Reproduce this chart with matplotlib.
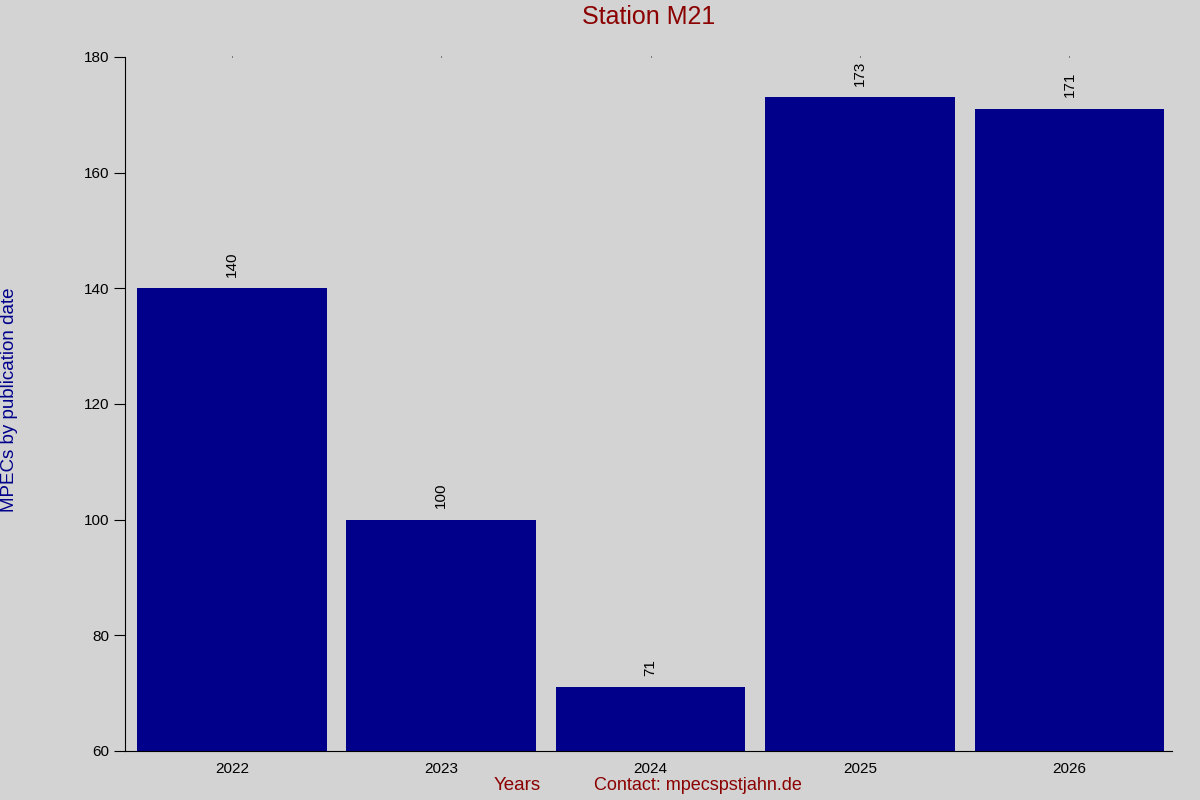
import matplotlib.pyplot as plt
import numpy as np

plt.rcParams['font.family'] = ['Liberation Sans', 'DejaVu Sans']

years = ['2022', '2023', '2024', '2025', '2026']
counts = [140, 100, 71, 173, 171]

fig = plt.figure(figsize=(12, 8), dpi=100, facecolor='#d3d3d3')
ax = fig.add_axes([125 / 1200, 49 / 800, 1047 / 1200, 694 / 800])
ax.set_facecolor('#d3d3d3')

x = np.arange(len(years))
bars = ax.bar(x + 0.01, counts, width=0.905, color='#00008b')

for xi, v in zip(x, counts):
    ax.text(xi + 0.01, v + 2, str(v), rotation=90, ha='center', va='bottom', fontsize=11)

ax.set_xlim(-0.5, 4.5)
ax.set_ylim(60, 180)
ax.set_yticks(range(60, 181, 20))
ax.set_xticks(x + 0.01)
ax.set_xticklabels(years)

ax.spines['top'].set_visible(False)
ax.spines['right'].set_visible(False)
ax.tick_params(axis='y', direction='out', length=8, labelsize=11)
ax.tick_params(axis='x', labelsize=11, pad=7, top=True, bottom=False, length=1, width=0.6)

ax.set_title('Station M21', color='#8b0000', fontsize=18, pad=24)
fig.text(10 / 1200, 0.5, 'MPECs by publication date', color='#00008b', fontsize=13.5,
         rotation=90, ha='center', va='center')
fig.text(517 / 1200, 14 / 800, 'Years', color='#8b0000', fontsize=13.5, ha='center', va='center')
fig.text(698 / 1200, 14 / 800, 'Contact: mpecspstjahn.de', color='#8b0000', fontsize=13,
         ha='center', va='center')

fig.savefig('out.png', facecolor=fig.get_facecolor())
